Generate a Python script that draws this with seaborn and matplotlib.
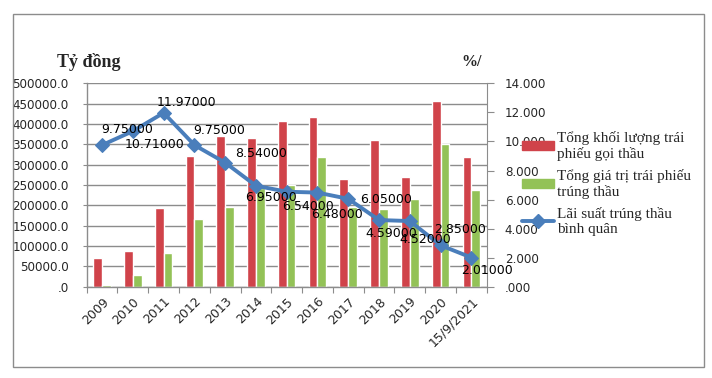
import numpy as np
import pandas as pd
import matplotlib
matplotlib.use("Agg")
import matplotlib.pyplot as plt
import seaborn as sns
from matplotlib.patches import Rectangle, Patch
from matplotlib.lines import Line2D

# Data
years = ["2009", "2010", "2011", "2012", "2013", "2014", "2015",
         "2016", "2017", "2018", "2019", "2020", "15/9/2021"]
goi_thau = [71000, 88000, 194000, 322000, 371000, 366000, 408000,
            418000, 265000, 361000, 270000, 456000, 319000]
trung_thau = [4000, 29500, 83500, 167000, 197000, 242000, 250000,
              318000, 195000, 192000, 216000, 351000, 238000]
lai_suat = [9.75, 10.71, 11.97, 9.75, 8.54, 6.95, 6.54,
            6.48, 6.05, 4.59, 4.52, 2.85, 2.01]

name_goi = "Tổng khối lượng trái\nphiếu gọi thầu"
name_trung = "Tổng giá trị trái phiếu\ntrúng thầu"
name_ls = "Lãi suất trúng thầu\nbình quân"

# label offsets in pixels (dx, dy) relative to each point
label_offsets = [(25, 16), (22, -13), (23, 10), (25, 15), (36, 9), (15, -12), (21, -15),
                 (20, -22), (38, -1), (12, -13), (15, -18), (19, 16), (16, -13)]

df = pd.DataFrame({"year": years * 2,
                   "value": goi_thau + trung_thau,
                   "series": [name_goi] * len(years) + [name_trung] * len(years)})

sns.set_style("white")
plt.rcParams["font.family"] = ["DejaVu Sans"]

fig = plt.figure(figsize=(7.12, 3.78), dpi=100)
ax = fig.add_axes([0.1218, 0.2415, 0.5618, 0.538])

sns.barplot(data=df, x="year", y="value", hue="series", order=years,
            palette=["#D0434A", "#93C257"], width=0.57, gap=0,
            saturation=1, ax=ax, legend=False)

ax.set_ylim(0, 500000)
ax.set_xlim(-0.5, 12.5)
ax.set_yticks(np.arange(0, 500001, 50000))
ax.set_yticklabels([".0"] + [f"{v}.0" for v in range(50000, 500001, 50000)])
ax.grid(axis="y", color="#8c8c8c", lw=1)
ax.set_axisbelow(True)
ax.set_xlabel("")
ax.set_ylabel("")
for side in ["top", "right"]:
    ax.spines[side].set_visible(False)
for side in ["left", "bottom"]:
    ax.spines[side].set_color("#8c8c8c")
    ax.spines[side].set_linewidth(1)

# x ticks at category borders, labels at centres
ax.set_xticks(np.arange(-0.5, 13, 1))
ax.set_xticklabels([])
ax.set_xticks(range(len(years)), minor=True)
ax.set_xticklabels(years, minor=True, rotation=45, ha="right",
                   rotation_mode="anchor", fontsize=9)
ax.tick_params(axis="x", which="major", direction="out", length=4,
               color="#8c8c8c", bottom=True)
ax.tick_params(axis="x", which="minor", length=0, pad=6)
ax.tick_params(axis="y", direction="out", length=3, color="#8c8c8c",
               labelsize=8.6, pad=10, left=True)

ax2 = ax.twinx()
ax2.set_position(ax.get_position())
sns.lineplot(x=np.arange(len(years)), y=lai_suat, ax=ax2, color="#4A7EBB",
             lw=2.8, marker="D", markersize=7, markeredgecolor="#4A7EBB",
             label=name_ls, legend=False)
ax2.set_ylim(0, 14)
ax2.set_yticks(np.arange(0, 15, 2))
ax2.set_yticklabels([".000"] + [f"{v}.000" for v in range(2, 15, 2)])
ax2.tick_params(axis="y", direction="out", length=5, color="#8c8c8c",
                labelsize=8.6, pad=8, right=True)
for side in ["top", "left", "bottom"]:
    ax2.spines[side].set_visible(False)
ax2.spines["right"].set_color("#8c8c8c")
ax2.grid(False)

for i, v in enumerate(lai_suat):
    dx, dy = label_offsets[i]
    ax2.annotate(f"{v:.5f}", (i, v), xytext=(dx, dy), textcoords="offset pixels",
                 ha="center", va="center", fontsize=9, color="black")

fig.text(0.08, 0.835, "Tỷ đồng", fontsize=13, fontweight="bold",
         family="Liberation Serif", va="center")
fig.text(0.648, 0.835, "%/", fontsize=11.5, fontweight="bold",
         family="Liberation Serif", va="center")

# legend
handles = [Patch(color="#D0434A"), Patch(color="#93C257"),
           Line2D([0], [0], color="#4A7EBB", lw=2.8, marker="D", markersize=7)]
fig.legend(handles, [name_goi, name_trung, name_ls], loc="upper left",
           bbox_to_anchor=(0.725, 0.67), frameon=False,
           prop={"family": "Liberation Serif", "size": 11},
           handlelength=2.1, handleheight=0.5, labelspacing=0.5,
           handletextpad=0.15, borderaxespad=0)

# outer chart frame
fig.patches.append(Rectangle((12.5 / 712, 1 - 366.7 / 378), (703.5 - 12.5) / 712,
                             (366.7 - 13.5) / 378, transform=fig.transFigure,
                             fill=False, edgecolor="#8c8c8c", lw=1))

fig.savefig("out.png", dpi=100)
